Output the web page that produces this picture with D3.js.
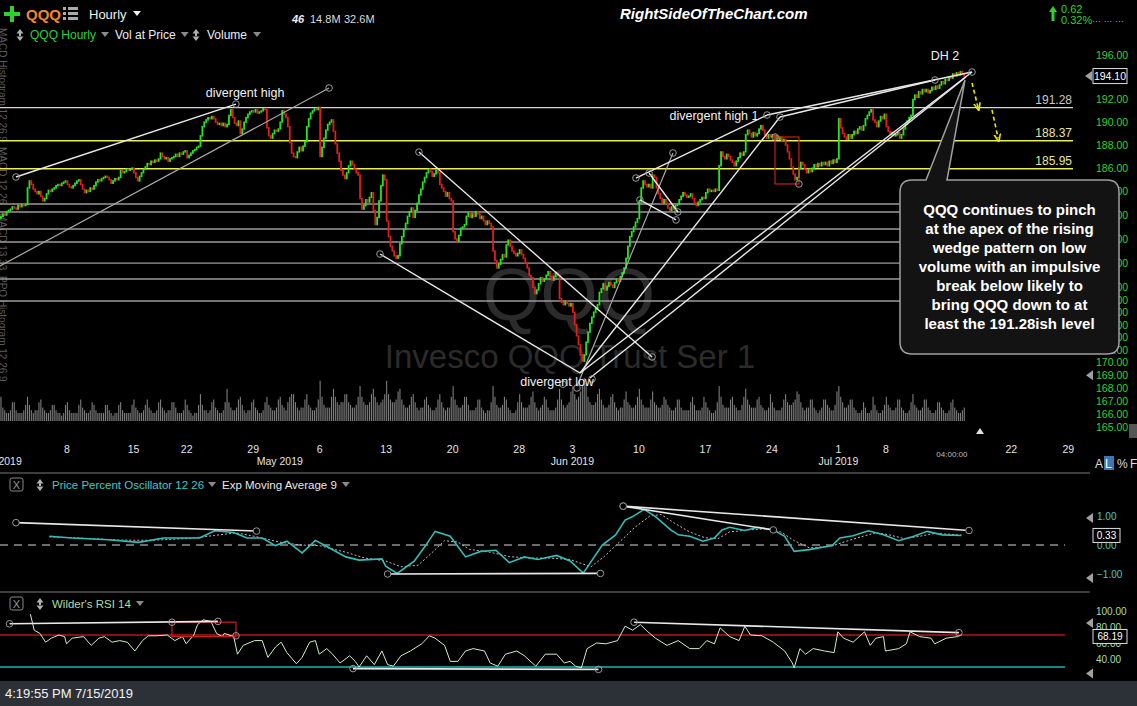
<!DOCTYPE html>
<html><head><meta charset="utf-8">
<script src="https://cdn.jsdelivr.net/npm/d3@7"></script>
<style>
body{margin:0;background:#000;overflow:hidden}
svg{display:block}
text{font-family:"Liberation Sans",Arial,sans-serif}
</style></head>
<body><svg id="c" width="1137" height="706"></svg>
<script>
// ---------------- DATA ----------------
const firstOpen = 181.7;
const closesByDay = [
[181.9,182.1,182.0,182.3,182.4,182.5,182.7],
[182.6,182.5,182.8,182.7,182.9,182.8,182.9],
[184.3,184.9,184.6,184.2,184.0,183.8,184.0],
[183.6,183.2,183.4,183.8,184.1,184.0,184.2],
[184.3,184.5,184.6,184.5,184.7,184.8,184.9],
[184.6,184.4,184.3,184.5,184.7,184.9,185.0],
[184.6,184.2,183.9,184.1,184.0,184.3,184.2],
[184.5,184.8,185.0,184.9,185.1,185.2,185.3],
[185.2,185.0,184.7,184.9,185.1,185.0,185.2],
[185.8,185.6,185.7,185.9,185.8,185.9,186.0],
[185.6,185.2,184.9,185.3,185.6,185.9,186.1],
[186.4,186.3,186.6,186.5,186.7,186.6,186.8],
[187.3,187.0,186.8,186.9,186.6,186.8,186.9],
[187.0,187.2,187.0,187.3,187.2,187.4,187.5],
[186.9,187.1,187.3,187.5,187.6,187.8,187.9],
[188.8,189.6,190.0,190.2,190.4,190.3,190.5],
[190.3,190.0,189.8,189.9,189.7,189.9,189.6],
[189.8,190.6,191.1,190.4,189.9,189.7,190.1],
[189.0,189.4,190.0,190.4,190.7,190.9,191.0],
[190.9,191.1,190.8,190.9,191.0,191.2,191.1],
[189.5,188.8,188.6,189.0,189.3,189.2,189.4],
[190.0,191.0,190.7,190.4,189.6,188.2,187.3],
[187.0,186.9,187.4,187.8,187.5,187.9,188.3],
[189.6,190.3,190.8,191.0,191.2,191.1,191.3],
[187.0,187.8,188.6,189.3,189.8,190.0,190.2],
[189.2,188.1,187.3,186.6,185.8,185.4,185.1],
[185.6,186.2,186.6,186.3,185.9,185.6,185.4],
[183.4,182.5,182.8,183.3,183.1,183.5,183.9],
[182.4,181.2,181.8,183.2,184.5,185.4,185.0],
[181.5,180.2,179.4,179.0,178.6,178.4,178.6],
[179.6,180.2,180.8,181.3,181.9,182.3,182.6],
[181.8,182.4,183.0,183.7,184.2,184.8,185.2],
[185.6,185.9,185.7,185.3,185.5,185.8,185.6],
[184.6,184.3,184.0,183.6,183.9,183.4,183.2],
[180.6,180.0,179.8,180.3,180.9,181.0,181.2],
[181.9,182.2,181.8,182.1,181.9,182.3,182.1],
[181.7,181.9,181.5,181.2,181.5,181.3,181.0],
[179.0,178.2,177.6,177.9,178.3,178.7,178.5],
[179.5,179.9,179.4,179.0,178.8,178.6,178.8],
[179.1,178.7,178.4,178.0,177.6,177.0,176.8],
[176.0,175.5,175.8,176.3,176.8,176.5,176.7],
[177.0,177.3,176.9,176.6,176.9,177.2,177.0],
[175.1,174.8,174.6,174.9,174.7,174.5,174.7],
[174.0,173.0,172.1,171.4,170.6,170.1,170.6],
[171.6,172.4,173.1,173.6,174.0,174.3,174.6],
[175.6,175.9,176.3,175.8,176.1,176.4,176.2],
[176.0,176.4,176.7,176.5,176.9,177.2,177.6],
[178.4,179.4,180.2,180.6,181.0,181.4,181.7],
[183.2,184.3,184.9,184.6,184.4,184.6,184.3],
[185.4,185.2,184.3,183.8,183.4,183.0,183.3],
[183.0,182.6,182.4,182.7,182.5,182.8,182.9],
[183.3,183.6,183.9,183.7,183.5,183.6,183.8],
[183.4,183.0,182.8,183.1,183.3,183.5,183.4],
[183.9,184.2,184.0,184.1,184.0,184.2,184.1],
[186.2,187.4,187.0,186.8,187.2,187.0,186.7],
[186.5,186.2,186.6,186.9,187.3,187.1,187.4],
[188.9,189.3,189.0,188.7,189.1,188.8,189.0],
[189.4,189.7,189.3,188.9,188.6,188.9,188.7],
[188.9,188.6,188.8,188.5,188.7,188.4,188.5],
[188.0,187.4,186.8,186.1,185.5,185.0,185.2],
[186.0,186.5,186.3,185.9,185.6,185.9,185.7],
[186.0,186.3,186.1,186.4,186.2,186.5,186.3],
[186.5,186.2,186.6,186.4,186.7,186.5,186.8],
[190.3,189.5,189.0,188.7,188.5,188.9,188.6],
[188.9,189.2,189.0,189.4,189.6,189.3,189.7],
[190.3,190.6,190.9,191.1],
[190.2,190.0,189.6,190.1,190.5,190.3,190.7],
[189.6,189.2,188.9,189.1,188.8,188.9,189.1],
[188.6,188.9,189.4,189.8,190.1,190.4,190.6],
[192.0,192.4,192.2,192.7,192.5,192.9,192.7],
[192.9,192.6,192.8,193.1,192.9,193.2,193.0],
[193.3,193.6,193.4,193.8,193.7,194.0,193.9],
[194.3,194.1,194.4,194.2,194.5,194.3,194.1]
];
const volumeByDay = [
[9,5,4,3,3,4,7],[7,4,3,3,3,4,6],[9,6,4,3,4,4,7],[8,5,4,3,3,4,6],[6,4,3,3,2,3,6],
[7,4,3,3,3,3,6],[8,5,4,3,3,4,7],[6,4,3,3,3,3,6],[6,4,3,2,3,3,6],[7,4,3,3,3,3,6],
[8,5,4,3,3,4,6],[8,5,4,3,3,4,7],[8,5,4,3,4,4,7],[7,5,3,3,3,4,8],[6,4,3,2,3,3,6],
[10,6,4,4,3,4,7],[8,5,4,3,3,4,7],[12,7,5,4,4,5,8],[9,6,4,3,4,4,7],[8,5,4,3,3,4,7],
[9,6,5,4,4,5,8],[9,6,5,4,7,9,10],[10,7,5,4,5,5,8],[10,6,5,4,4,5,8],[15,9,6,5,5,5,9],
[12,9,7,6,7,7,10],[10,7,6,5,5,6,9],[13,9,7,6,6,7,10],[12,9,7,6,7,8,10],[15,10,8,7,7,8,11],
[12,8,6,5,5,6,9],[10,7,5,4,5,5,8],[9,6,5,4,4,5,8],[10,7,5,4,5,5,9],[13,8,6,5,5,6,9],
[9,6,4,4,4,5,8],[8,5,4,3,4,4,7],[13,9,6,5,5,6,9],[8,5,4,3,3,4,7],[10,7,5,5,5,6,9],
[11,7,5,4,5,6,9],[8,5,4,4,4,5,8],[12,8,6,5,6,7,11],[13,10,8,9,11,13,16],[14,9,7,6,6,7,10],
[12,8,6,5,5,6,9],[10,7,5,4,5,5,8],[11,7,6,5,5,6,9],[12,8,6,5,5,5,8],[11,7,6,5,5,6,9],
[8,6,5,4,4,5,8],[8,5,4,4,4,4,7],[9,6,4,4,4,5,9],[7,5,4,3,3,4,7],[13,9,6,5,5,5,8],
[9,6,5,4,4,6,9],[12,8,6,5,5,5,8],[9,6,5,4,4,5,10],[7,5,4,4,4,5,8],[10,7,6,6,7,8,11],
[10,7,5,4,5,5,8],[8,5,4,3,4,5,8],[8,6,5,4,4,6,11],[13,9,7,5,5,6,8],[8,5,4,3,3,4,7],
[5,3,3,4],[9,6,4,3,3,4,6],[9,6,5,4,4,5,8],[8,5,4,3,3,4,7],[10,6,5,4,4,5,8],
[8,5,4,3,3,4,7],[7,5,4,3,3,4,7],[8,5,4,3,3,4,5]
];
// x axis (bar index positions)
const xTickBars   = [35,70,98,133,168,203,238,273,301,336,371,406,441,466,532,562];
const xTickLabels = ["8","15","22","29","6","13","20","28","3","10","17","24","1","8","22","29"];
const monthBars   = [0,147,301,441];
const monthLabels = ["Apr 2019","May 2019","Jun 2019","Jul 2019"];
const cursorBar = 501, cursorLabel = "04:00:00";
const priceTicks = [196,192,190,188,186,184,182,180,178,176,175,174,173,172,171,170,169,168,167,166,165];
const lastPrice = 194.10;
// horizontal levels
const levelWhite  = [191.28];
const levelYellow = [188.37,185.95];
const levelGray   = [182.93,182.26,180.83,179.75,178.0,176.69,174.90];
// trend lines [bar1, price1, bar2, price2]
const trendWhite = [
 [8.4,185.24,124.2,191.60],
 [200,178.75,305.3,169.17],
 [220.5,187.39,343.2,170.43],
 [305.3,169.17,410.5,190.45],
 [305.3,169.17,511.6,194.46],
 [310.5,168.78,508.4,194.01],
 [334.7,185.15,403.7,190.63],
 [403.7,190.63,511.6,194.46],
 [410.5,190.45,492.1,193.74],
 [341.6,185.58,356.8,182.26],
 [336.8,183.28,355.8,181.59]
];
const trendGray = [
 [0,177.76,173.2,193.03],
 [303.7,168.15,354.2,187.31]
];
const circlePts = [[8.4,185.24],[124.2,191.60],[173.2,193.03],[200,178.75],[220.5,187.39],[343.2,170.43],
 [354.2,187.31],[410.5,190.45],[403.7,190.63],[511.6,194.46],[492.1,193.74],[334.7,185.15],
 [341.6,185.58],[356.8,182.26],[355.8,181.59],[336.8,183.28],[296.3,168.3],[303.7,168.0],[311.6,168.7],
 [407.9,188.70],[420.5,184.64]];
const redBox = [407.9,188.70,420.5,184.64];
const arrows = [[511.6,193.48,514.7,191.34],[522.1,191.09,525.3,188.61]];
const priceLabels = [
 {bar:129,price:192.22,text:"divergent high"},
 {bar:375.8,price:190.21,text:"divergent high 1"},
 {bar:497.4,price:195.55,text:"DH 2"},
 {bar:293.2,price:168.15,text:"divergent low"}
];
const calloutLines = ["QQQ continues to pinch","at the apex of the rising","wedge pattern on low",
 "volume with an impulsive","break below likely to","bring QQQ down to at","least the 191.28ish level"];
// PPO (bar, value)
const ppo = [[26,0.3],[38,0.24],[57,0.18],[73,0.09],[86,0.24],[105,0.24],[113,0.49],[123,0.43],[130,0.24],
 [138,0.24],[145,-0.02],[151,0.13],[159,-0.27],[166,0.16],[172,-0.05],[182,-0.41],[189,-0.52],[201,-0.48],
 [203,-0.73],[209,-0.98],[218,-0.56],[224,-0.02],[229,0.47],[237,0.3],[245,-0.41],[253,-0.22],[261,-0.18],
 [268,-0.61],[276,-0.41],[283,-0.5],[293,-0.36],[300,-0.55],[307,-0.97],[317,0.0],[324,0.35],[329,0.86],
 [333,0.98],[339,1.23],[345,0.98],[353,0.52],[357,0.35],[363,0.3],[370,0.13],[376,0.24],[380,0.52],[384,0.61],
 [392,0.5],[399,0.61],[407,0.52],[413,0.3],[418,-0.22],[426,-0.16],[438,-0.02],[442,0.24],[449,0.32],
 [457,0.49],[465,0.35],[473,0.15],[481,0.3],[488,0.47],[496,0.35],[506,0.33]];
const ppoSignal = [[26,0.28],[42,0.24],[63,0.17],[79,0.16],[100,0.23],[113,0.33],[124,0.42],[134,0.3],
 [147,0.1],[158,0.0],[168,-0.02],[182,-0.25],[192,-0.45],[203,-0.55],[211,-0.75],[220,-0.7],[226,-0.35],
 [234,0.15],[241,0.1],[247,-0.15],[258,-0.25],[268,-0.4],[279,-0.45],[289,-0.45],[300,-0.5],[311,-0.75],
 [318,-0.4],[326,0.1],[334,0.6],[342,1.0],[348,1.05],[355,0.75],[363,0.45],[371,0.25],[378,0.22],[384,0.45],
 [394,0.52],[403,0.56],[411,0.45],[418,0.15],[426,-0.1],[437,-0.05],[445,0.12],[453,0.28],[461,0.42],
 [468,0.35],[476,0.22],[484,0.3],[492,0.4],[500,0.37],[506,0.34]];
const ppoLines = [[8.4,0.77,135,0.48],[204,-1.0,316,-0.98],[328,1.34,407,0.52],[328,1.34,510,0.5]];
const ppoTicks = [1,0,-1];
const ppoLast = 0.33;
// RSI (bar, value)
const rsi = [[16,96],[18,76],[21,72],[24,61],[27,66],[31,70],[34,68],[35,59],[38,66],[44,68],[48,57],[52,66],
 [55,68],[59,61],[63,63],[67,61],[71,50],[75,63],[78,69],[82,69],[88,70],[92,63],[96,68],[98,59],[102,70],
 [104,83],[107,89],[111,87],[114,72],[117,68],[118,72],[123,68],[125,46],[128,57],[134,63],[138,63],[141,42],
 [145,55],[148,61],[151,48],[156,34],[159,42],[163,61],[166,63],[168,46],[172,53],[175,46],[179,35],[184,44],
 [187,37],[189,30],[193,44],[197,33],[201,50],[204,33],[207,31],[211,44],[216,50],[222,59],[226,69],[229,66],
 [234,57],[237,37],[241,37],[245,50],[249,53],[255,50],[258,35],[262,31],[266,46],[272,50],[276,44],[282,31],
 [287,46],[293,46],[297,35],[300,37],[303,31],[306,29],[309,53],[314,60],[319,59],[325,63],[329,81],[333,76],
 [337,83],[341,74],[345,66],[351,57],[357,63],[363,53],[368,53],[372,63],[376,59],[379,79],[384,68],[389,63],
 [392,81],[395,70],[401,69],[407,61],[413,50],[417,35],[418,29],[421,53],[424,46],[428,53],[434,50],[439,48],
 [441,74],[444,66],[449,61],[455,74],[458,57],[461,66],[465,68],[466,50],[473,53],[477,59],[479,74],[484,68],
 [490,66],[492,59],[498,66],[504,68],[506,70]];
const rsiLines = [[5,84,114.7,87],[185.8,28,315,27],[333.7,86,504.7,73]];
const rsiCircles = [[5,84],[90.5,86],[114.7,87],[124.2,69],[185.8,28],[315,27],[333.7,86],[504.7,73]];
const rsiBox = [90.5,86,124.2,68];
const rsiTicks = [100,80,60,40];
const rsiLast = 68.19;

// ---------------- DRAW ----------------
const closes = closesByDay.flat();
const volumes = volumeByDay.flat();
const svg = d3.select('#c');
svg.append('rect').attr('width',1137).attr('height',706).attr('fill','#000');

const xs = d3.scaleLinear().domain([0,566]).range([0,1075.4]);
const ys = d3.scaleLog().domain([196,165]).range([55,426.9]);
const yv = d3.scaleLinear().domain([0,16]).range([421,378]);
const yp = d3.scaleLinear().domain([-1,1]).range([574,516]);
const yr = d3.scaleLinear().domain([30,100]).range([667,611]);

const defs = svg.append('defs');
defs.append('clipPath').attr('id','pc').append('rect').attr('x',0).attr('y',45).attr('width',1078).attr('height',386);
defs.append('marker').attr('id','ah').attr('viewBox','0 0 10 10').attr('refX',5).attr('refY',5)
  .attr('markerWidth',5).attr('markerHeight',5).attr('orient','auto')
  .append('path').attr('d','M0,1 L10,5 L0,9').attr('fill','none').attr('stroke','#e8e800').attr('stroke-width',2);

const FONT = '"Liberation Sans",Arial,sans-serif';

// side tabs
const sideTabs = [["MACD Histogram 12 26 9",28],["MACD 12 26",147],["MACD 13 33",213],["PPO Histogram 12 26 9",276]];
sideTabs.forEach(t=>{
  svg.append('text').attr('transform',`translate(-1,${t[1]}) rotate(90)`).attr('font-size',10)
    .attr('fill','#5c5c5c').text(t[0]);
});

// watermark
svg.append('text').attr('x',569).attr('y',320).attr('text-anchor','middle').attr('font-size',74)
  .attr('fill','#2b2b2b').text('QQQ');
svg.append('text').attr('x',570).attr('y',368).attr('text-anchor','middle').attr('font-size',33)
  .attr('fill','#2b2b2b').text('Invesco QQQ Trust Ser 1');

const pg = svg.append('g').attr('clip-path','url(#pc)');

// volume
pg.selectAll('rect.v').data(volumes).join('rect')
  .attr('x',(d,i)=>xs(i+0.5)-0.55).attr('width',1.1)
  .attr('y',d=>yv(d)).attr('height',d=>yv(0)-yv(d)).attr('fill','#7d7d7d');

// levels
const lvl = (arr,col,w)=>pg.selectAll(null).data(arr).join('line')
  .attr('x1',0).attr('x2',1073).attr('y1',d=>ys(d)).attr('y2',d=>ys(d)).attr('stroke',col).attr('stroke-width',w);
lvl(levelGray,'#9a9a9a',1.4);
lvl(levelWhite,'#d4d4d4',1.4);
lvl(levelYellow,'#ecec5a',1.4);

// candles
const bars = closes.map((c,i)=>({i,o:i?closes[i-1]:firstOpen,c}));
pg.selectAll('rect.cd').data(bars).join('rect')
  .attr('x',d=>xs(d.i+0.5)-0.9).attr('width',1.8)
  .attr('y',d=>ys(Math.max(d.o,d.c))-0.7)
  .attr('height',d=>Math.max(1.8,Math.abs(ys(d.o)-ys(d.c))+1.4))
  .attr('fill',d=>d.c>=d.o?'#22e622':'#e31c1c');

// trend lines
const tl = (arr,col,w)=>pg.selectAll(null).data(arr).join('line')
  .attr('x1',d=>xs(d[0])).attr('y1',d=>ys(d[1])).attr('x2',d=>xs(d[2])).attr('y2',d=>ys(d[3]))
  .attr('stroke',col).attr('stroke-width',w);
tl(trendGray,'#a8a8a8',1.2);
tl(trendWhite,'#e8e8e8',1.4);
pg.append('rect').attr('x',xs(redBox[0])).attr('y',ys(redBox[1])).attr('width',xs(redBox[2])-xs(redBox[0]))
  .attr('height',ys(redBox[3])-ys(redBox[1])).attr('fill','none').attr('stroke','#c81e1e').attr('stroke-width',1.2);
pg.selectAll('circle.tc').data(circlePts).join('circle').attr('cx',d=>xs(d[0])).attr('cy',d=>ys(d[1]))
  .attr('r',3.3).attr('fill','none').attr('stroke','#9a9a9a').attr('stroke-width',1);
svg.selectAll('line.ar').data(arrows).join('line')
  .attr('x1',d=>xs(d[0])).attr('y1',d=>ys(d[1])).attr('x2',d=>xs(d[2])).attr('y2',d=>ys(d[3]))
  .attr('stroke','#e8e800').attr('stroke-width',1.6).attr('stroke-dasharray','4,3').attr('marker-end','url(#ah)');

// level labels
const lblData = [[191.28,'#c8c8c8'],[188.37,'#e6e6a0'],[185.95,'#e6e6a0']];
svg.selectAll('text.ll').data(lblData).join('text').attr('x',1072).attr('y',d=>ys(d[0])-4)
  .attr('text-anchor','end').attr('font-size',12).attr('fill',d=>d[1]).text(d=>d[0].toFixed(2));

svg.selectAll('text.pl').data(priceLabels).join('text').attr('x',d=>xs(d.bar)).attr('y',d=>ys(d.price))
  .attr('text-anchor','middle').attr('font-size',12.5).attr('fill','#f0f0f0').text(d=>d.text);

// price axis
const pax = svg.append('g').attr('transform','translate(1093,0)')
  .call(d3.axisRight(ys).tickValues(priceTicks).tickFormat(d3.format('.2f')).tickSize(0));
pax.select('.domain').remove();
pax.selectAll('text').attr('fill','#2ed42e').attr('font-size',10.5).attr('font-family',FONT).attr('x',3);
svg.append('rect').attr('x',1093).attr('y',ys(lastPrice)-7.5).attr('width',34).attr('height',15)
  .attr('fill','#000').attr('stroke','#dcdcdc');
svg.append('text').attr('x',1110).attr('y',ys(lastPrice)+4).attr('text-anchor','middle').attr('font-size',10.5)
  .attr('fill','#fff').text(lastPrice.toFixed(2));
const tri = (x,y,c)=>svg.append('path').attr('d',`M${x},${y} l7,-5 v10 z`).attr('fill',c||'#a0a0a0');
tri(1085,ys(lastPrice));
tri(1086,ys(169));

// x axis
const xa = svg.append('g').attr('transform','translate(0,443)')
  .call(d3.axisBottom(xs).tickValues(xTickBars).tickFormat((d,i)=>xTickLabels[i]).tickSize(0));
xa.select('.domain').remove();
xa.selectAll('text').attr('fill','#e4e4e4').attr('font-size',10.5).attr('font-family',FONT);
const xm = svg.append('g').attr('transform','translate(0,455)')
  .call(d3.axisBottom(xs).tickValues(monthBars).tickFormat((d,i)=>monthLabels[i]).tickSize(0));
xm.select('.domain').remove();
xm.selectAll('text').attr('fill','#e4e4e4').attr('font-size',10.5).attr('font-family',FONT);
svg.append('text').attr('x',xs(cursorBar)).attr('y',457).attr('text-anchor','middle').attr('font-size',8)
  .attr('fill','#bbb').text(cursorLabel);
svg.append('path').attr('d','M976,434 l4,-6 l4,6 z').attr('fill','#e0e0e0');

// bottom-right A L % F
svg.append('text').attr('x',1095).attr('y',468).attr('font-size',12).attr('fill','#ddd').text('A');
svg.append('rect').attr('x',1104).attr('y',456).attr('width',10).attr('height',14).attr('fill','#3d78b5');
svg.append('text').attr('x',1105).attr('y',468).attr('font-size',12).attr('fill','#fff').text('L');
svg.append('text').attr('x',1117).attr('y',468).attr('font-size',12).attr('fill','#ddd').text('%');
svg.append('text').attr('x',1130).attr('y',468).attr('font-size',12).attr('fill','#ddd').text('F');
svg.append('rect').attr('x',1129).attr('y',424).attr('width',10).attr('height',14).attr('fill','#555');

// separators
[473,592].forEach(y=>svg.append('line').attr('x1',0).attr('x2',1090).attr('y1',y).attr('y2',y)
  .attr('stroke','#7a7a7a').attr('stroke-width',1));

// helpers
const updown = (x,y)=>svg.append('path')
  .attr('d',`M${x-3.5},${y-1.5} L${x},${y-6} L${x+3.5},${y-1.5} Z M${x-3.5},${y+1.5} L${x},${y+6} L${x+3.5},${y+1.5} Z M${x-1},${y-2} h2 v4 h-2 z`)
  .attr('fill','#b0b0b0');
const drop = (x,y,c)=>svg.append('path').attr('d',`M${x},${y} h8 l-4,5 z`).attr('fill',c||'#8a8a8a');
const label = (x,y,size,col,txt,gap,dropCol)=>{
  const t = svg.append('text').attr('x',x).attr('y',y).attr('font-size',size).attr('fill',col).text(txt);
  const w = t.node().getComputedTextLength();
  if(gap!=null) drop(x+w+gap,y-7,dropCol);
  return x+w;
};
const xbox = (x,y)=>{svg.append('rect').attr('x',x).attr('y',y).attr('width',13).attr('height',13).attr('rx',2)
  .attr('fill','none').attr('stroke','#888');
  svg.append('text').attr('x',x+6.5).attr('y',y+10.5).attr('text-anchor','middle').attr('font-size',11).attr('fill','#999').text('X');};

// PPO panel
xbox(10,478); updown(40,485);
label(52,489,11.5,'#3cc8c8','Price Percent Oscillator 12 26',4);
label(222,489,11.5,'#e8e8e8','Exp Moving Average 9',5);
svg.append('line').attr('x1',0).attr('x2',1065).attr('y1',yp(0)).attr('y2',yp(0)).attr('stroke','#d8d8d8')
  .attr('stroke-width',1.2).attr('stroke-dasharray','8,6');
const lineGen = (ysc)=>d3.line().x(d=>xs(d[0])).y(d=>ysc(d[1]));
svg.append('path').datum(ppoSignal).attr('d',lineGen(yp)).attr('fill','none').attr('stroke','#bdbdbd')
  .attr('stroke-width',1).attr('stroke-dasharray','2,2');
svg.append('path').datum(ppo).attr('d',lineGen(yp)).attr('fill','none').attr('stroke','#35bdb8').attr('stroke-width',1.6);
svg.selectAll('line.pl2').data(ppoLines).join('line').attr('x1',d=>xs(d[0])).attr('y1',d=>yp(d[1]))
  .attr('x2',d=>xs(d[2])).attr('y2',d=>yp(d[3])).attr('stroke','#e8e8e8').attr('stroke-width',1.6);
svg.selectAll('circle.pc').data(ppoLines.flatMap(d=>[[d[0],d[1]],[d[2],d[3]]])).join('circle')
  .attr('cx',d=>xs(d[0])).attr('cy',d=>yp(d[1])).attr('r',3.3).attr('fill','#000').attr('stroke','#9a9a9a');
const ppax = svg.append('g').attr('transform','translate(1093,0)')
  .call(d3.axisRight(yp).tickValues(ppoTicks).tickFormat(d3.format('.2f')).tickSize(0));
ppax.select('.domain').remove();
ppax.selectAll('text').attr('fill','#4fc6c6').attr('font-size',10).attr('font-family',FONT).attr('x',4);
svg.append('rect').attr('x',1093).attr('y',yp(ppoLast)-7).attr('width',27).attr('height',14).attr('fill','#000').attr('stroke','#ddd');
svg.append('text').attr('x',1106.5).attr('y',yp(ppoLast)+4).attr('text-anchor','middle').attr('font-size',10).attr('fill','#fff').text(ppoLast.toFixed(2));
tri(1086,yp(1)+2); tri(1086,yp(-1)+4);

// RSI panel
xbox(10,597); updown(40,604);
label(52,608,11.5,'#a9dca9',"Wilder's RSI 14",5);
svg.append('line').attr('x1',0).attr('x2',1065).attr('y1',yr(70)).attr('y2',yr(70)).attr('stroke','#b01818').attr('stroke-width',1.4);
svg.append('line').attr('x1',0).attr('x2',1065).attr('y1',yr(30)).attr('y2',yr(30)).attr('stroke','#1fb5b0').attr('stroke-width',1.4);
svg.append('path').datum(rsi).attr('d',lineGen(yr)).attr('fill','none').attr('stroke','#cdeec8').attr('stroke-width',1);
svg.append('rect').attr('x',xs(rsiBox[0])).attr('y',yr(rsiBox[1])).attr('width',xs(rsiBox[2])-xs(rsiBox[0]))
  .attr('height',yr(rsiBox[3])-yr(rsiBox[1])).attr('fill','none').attr('stroke','#c81e1e').attr('stroke-width',1.2);
svg.selectAll('line.rl').data(rsiLines).join('line').attr('x1',d=>xs(d[0])).attr('y1',d=>yr(d[1]))
  .attr('x2',d=>xs(d[2])).attr('y2',d=>yr(d[3])).attr('stroke','#e8e8e8').attr('stroke-width',1.6);
svg.selectAll('circle.rc').data(rsiCircles).join('circle').attr('cx',d=>xs(d[0])).attr('cy',d=>yr(d[1]))
  .attr('r',3.3).attr('fill','none').attr('stroke','#9a9a9a');
const rax = svg.append('g').attr('transform','translate(1093,0)')
  .call(d3.axisRight(yr).tickValues(rsiTicks).tickFormat(d3.format('.2f')).tickSize(0));
rax.select('.domain').remove();
rax.selectAll('text').attr('fill','#a9dca9').attr('font-size',10).attr('font-family',FONT).attr('x',3);
svg.append('rect').attr('x',1093).attr('y',yr(rsiLast)-7).attr('width',34).attr('height',14).attr('fill','#000').attr('stroke','#ddd');
svg.append('text').attr('x',1110).attr('y',yr(rsiLast)+4).attr('text-anchor','middle').attr('font-size',10).attr('fill','#fff').text(rsiLast.toFixed(2));
tri(1086,yr(85)); tri(1086,yr(22));

// callout box
const bx0=900,by0=180,bx1=1119,by1=354,r=12;
svg.append('path').attr('d',
 `M${bx0+r},${by0} L926,${by0} L965,80 L947,${by0} L${bx1-r},${by0} Q${bx1},${by0} ${bx1},${by0+r} L${bx1},${by1-r} Q${bx1},${by1} ${bx1-r},${by1} L${bx0+r},${by1} Q${bx0},${by1} ${bx0},${by1-r} L${bx0},${by0+r} Q${bx0},${by0} ${bx0+r},${by0} Z`)
 .attr('fill','#131313').attr('stroke','#a0a0a0').attr('stroke-width',1.5);
svg.selectAll('text.co').data(calloutLines).join('text').attr('x',1009.5).attr('y',(d,i)=>215+i*19)
  .attr('text-anchor','middle').attr('font-size',15).attr('font-weight','bold').attr('fill','#fff').text(d=>d);

// header
svg.append('path').attr('d','M4,12 h6 v-6 h4 v6 h6 v4 h-6 v6 h-4 v-6 h-6 z').attr('fill','#2fd02f');
svg.append('text').attr('x',26).attr('y',20).attr('font-size',15).attr('font-weight','bold').attr('fill','#f0882a').text('QQQ');
[8,13,18].forEach(y=>{svg.append('rect').attr('x',63).attr('y',y-1).attr('width',3).attr('height',3).attr('fill','#aaa');
  svg.append('rect').attr('x',68).attr('y',y-1).attr('width',10).attr('height',3).attr('fill','#aaa');});
svg.append('text').attr('x',89).attr('y',19).attr('font-size',13).attr('fill','#f0f0f0').text('Hourly');
drop(133,11,'#eee');
svg.append('text').attr('x',292).attr('y',23).attr('font-size',11).attr('font-weight','bold').attr('font-style','italic').attr('fill','#eee').text('46');
svg.append('text').attr('x',310).attr('y',23).attr('font-size',11).attr('fill','#ddd').text('14.8M');
svg.append('text').attr('x',344).attr('y',23).attr('font-size',11).attr('fill','#ddd').text('32.6M');
updown(20,35);
label(30,39,12,'#2ecc40','QQQ Hourly',5);
label(115,39,12,'#eee','Vol at Price',5);
updown(196,35);
label(207,39,12,'#eee','Volume',6);
svg.append('text').attr('x',620).attr('y',19).attr('font-size',15).attr('font-weight','bold').attr('font-style','italic').attr('fill','#fff').text('RightSideOfTheChart.com');
svg.append('path').attr('d','M1049,12 l4,-6 l4,6 h-2.5 v9 h-3 v-9 z').attr('fill','#2fd02f');
svg.append('text').attr('x',1061).attr('y',13).attr('font-size',11).attr('fill','#2fd02f').text('0.62');
svg.append('text').attr('x',1061).attr('y',24).attr('font-size',11).attr('fill','#2fd02f').text('0.32%');
svg.append('text').attr('x',1092).attr('y',22).attr('font-size',9).attr('fill','#aaa').text('…  …  …');

// status bar
svg.append('rect').attr('x',0).attr('y',681).attr('width',1137).attr('height',25).attr('fill','#2c3137');
svg.append('text').attr('x',5).attr('y',698).attr('font-size',13).attr('fill','#f2f2f2').text('4:19:55 PM 7/15/2019');
</script></body></html>
